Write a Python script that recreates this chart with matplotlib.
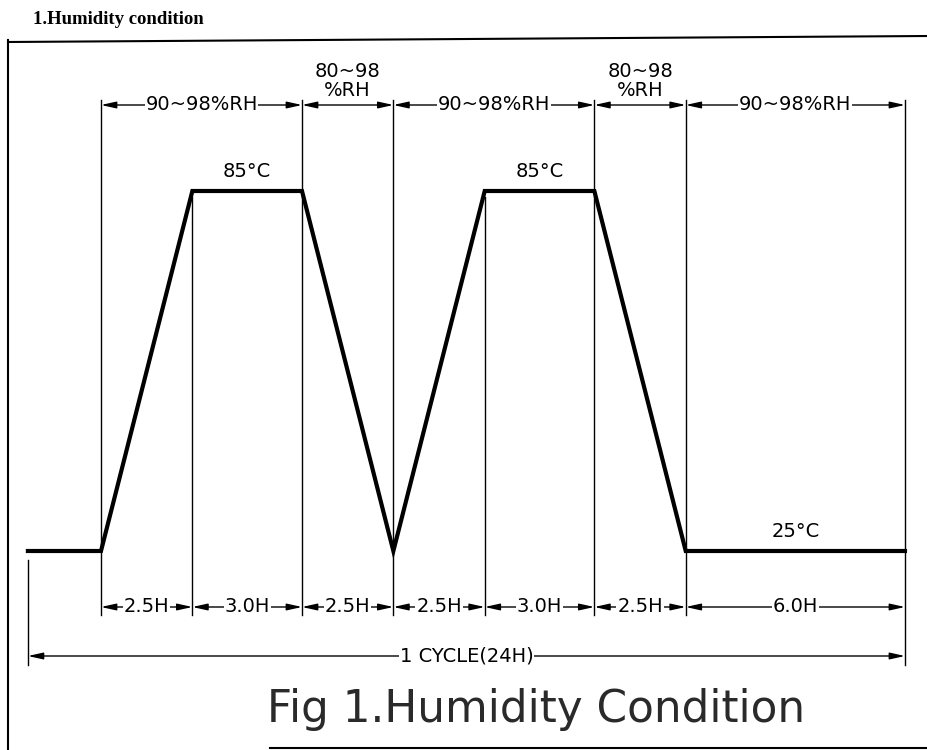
import numpy as np
import matplotlib.pyplot as plt
from matplotlib.lines import Line2D

# dados do perfil (horas / graus C)
segment_hours = [2.5, 3.0, 2.5, 2.5, 3.0, 2.5, 6.0]
segment_labels = ["2.5H", "3.0H", "2.5H", "2.5H", "3.0H", "2.5H", "6.0H"]
profile_time = [-2, 0, 2.5, 5.5, 8, 10.5, 13.5, 16, 22]
profile_temp = [25, 25, 85, 85, 25, 85, 85, 25, 25]
rh_bounds = [0, 5.5, 8, 13.5, 16, 22]
rh_labels = ["90~98%RH", "80~98\n%RH", "90~98%RH", "80~98\n%RH", "90~98%RH"]
temp_labels = [(4.0, 85, "85°C"), (12.0, 85, "85°C"), (19.0, 25, "25°C")]
cycle_label = "1 CYCLE(24H)"

# escala: 36.545 px por hora, 6 px por grau, t=0 em x=101, 25C em y=551
W, H = 928, 750
px_h, px_c = 36.545, 6.0
x0, y25 = 101, 551
xlim = (-x0 / px_h, (W - x0) / px_h)
ylim = (25 - (H - y25) / px_c, 25 + y25 / px_c)

def ty(py):  # pixel y -> temperatura
    return 25 + (y25 - py) / px_c

def tx(px):  # pixel x -> horas
    return (px - x0) / px_h

fig = plt.figure(figsize=(W / 100, H / 100), dpi=100)
ax = fig.add_axes([0, 0, 1, 1])
ax.set_xlim(*xlim)
ax.set_ylim(*ylim)
ax.axis("off")

font = "DejaVu Sans"
thin = 1.0

# perfil de temperatura
ax.plot(profile_time, profile_temp, color="black", lw=3.0, solid_joinstyle="miter")

bounds = np.concatenate([[0], np.cumsum(segment_hours)])
top_dim = ty(105)
bot_dim = ty(607)
cyc_dim = ty(656)

# linhas de chamada verticais
for t in bounds:
    temp = np.interp(t, profile_time, profile_temp)
    if t in rh_bounds:
        y_top = ty(100)
    else:
        y_top = temp - 1.0
    y_bot = ty(665) if t == bounds[-1] else ty(615)
    ax.plot([t, t], [y_top, y_bot], color="black", lw=thin)
ax.plot([profile_time[0]] * 2, [ty(560), ty(665)], color="black", lw=thin)

def dim(a, b, y, label, two_lines=False):
    ax.annotate("", xy=(a, y), xytext=(b, y),
                arrowprops=dict(arrowstyle="<|-|>,head_length=0.9,head_width=0.2",
                                color="black", lw=thin, shrinkA=0, shrinkB=0,
                                mutation_scale=10))
    if two_lines:
        ax.text((a + b) / 2, y + 0.8, label, ha="center", va="bottom",
                fontsize=14, family=font, linespacing=1.0)
    else:
        ax.text((a + b) / 2, y, label, ha="center", va="center", fontsize=14,
                family=font, bbox=dict(fc="white", ec="none", pad=0.5))

for i, lab in enumerate(rh_labels):
    dim(rh_bounds[i], rh_bounds[i + 1], top_dim, lab, two_lines="\n" in lab)

for i, lab in enumerate(segment_labels):
    dim(bounds[i], bounds[i + 1], bot_dim, lab)

dim(profile_time[0], profile_time[-1], cyc_dim, cycle_label)

for t, temp, lab in temp_labels:
    ax.text(t, temp + 1.6, lab, ha="center", va="bottom", fontsize=14, family=font)

ax.text(tx(536), ty(722), "Fig 1.Humidity Condition", ha="center",
        va="baseline", fontsize=31.5, family=font, color="#2a2a2a")

# moldura digitalizada
fig.add_artist(Line2D([8 / W, 8 / W], [1 - 40 / H, 0], color="black", lw=1.5))
fig.add_artist(Line2D([8 / W, 1], [1 - 42 / H, 1 - 36 / H], color="black", lw=1.5))
fig.add_artist(Line2D([270 / W, 1], [2 / H, 2 / H], color="black", lw=1.5))

fig.text(33 / W, 1 - 20 / H, "1.Humidity condition", ha="left", va="center",
         fontsize=13.5, family="Liberation Serif", fontweight="bold")

fig.savefig("out.png", dpi=100)
